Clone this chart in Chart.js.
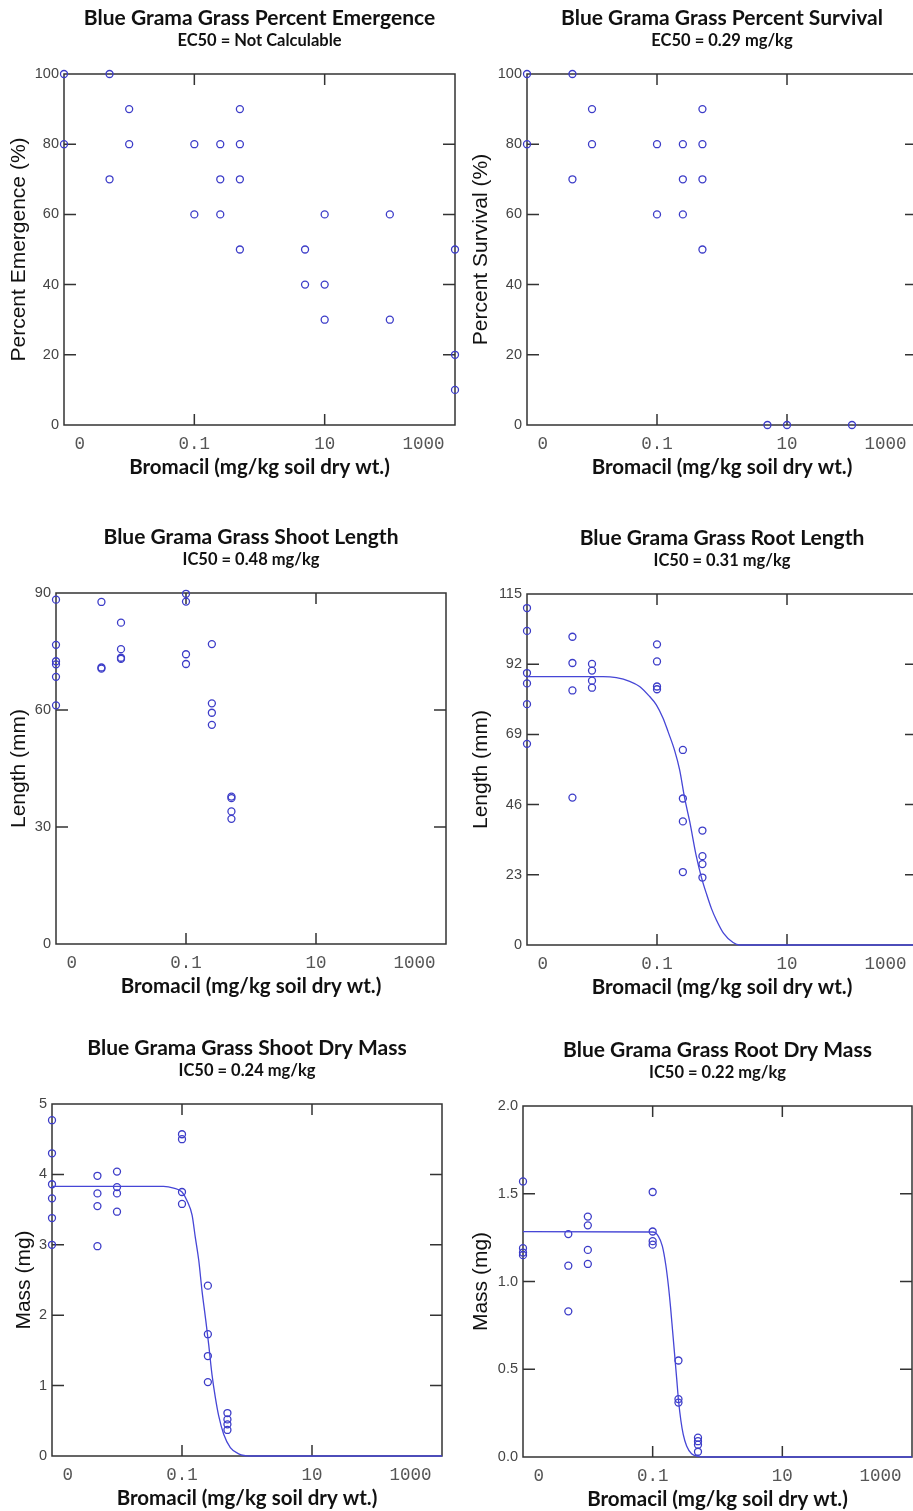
<!DOCTYPE html>
<html>
<head>
<meta charset="utf-8">
<title>Blue Grama Grass - Bromacil</title>
<script src="https://cdn.jsdelivr.net/npm/chart.js@4.4.1/dist/chart.umd.min.js"></script>
<style>
  html, body { margin: 0; padding: 0; background: #fff; }
  #page { position: relative; width: 913px; height: 1511px; overflow: hidden; background: #fff; }
  #page canvas { position: absolute; }
</style>
</head>
<body>
<div id="page">
  <canvas id="emergenceChart"></canvas>
  <canvas id="survivalChart"></canvas>
  <canvas id="shootLengthChart"></canvas>
  <canvas id="rootLengthChart"></canvas>
  <canvas id="shootMassChart"></canvas>
  <canvas id="rootMassChart"></canvas>
</div>
<script>
// eixo x (mg/kg) - o controle (0) fica na ponta esquerda do eixo log
const xTickValues = [0.001, 0.1, 10, 1000];
const xTickLabels = ["0", "0.1", "10", "1000"];

// Percent Emergence
const emergenceConc = [0.001, 0.001, 0.005, 0.005, 0.01, 0.01, 0.1, 0.1, 0.25, 0.25, 0.25,
  0.5, 0.5, 0.5, 0.5, 5, 5, 10, 10, 10, 100, 100, 1000, 1000, 1000];
const emergenceValues = [100, 80, 100, 70, 90, 80, 80, 60, 80, 70, 60,
  90, 80, 70, 50, 50, 40, 60, 40, 30, 60, 30, 50, 20, 10];

// Percent Survival
const survivalConc = [0.001, 0.001, 0.005, 0.005, 0.01, 0.01, 0.1, 0.1, 0.25, 0.25, 0.25,
  0.5, 0.5, 0.5, 0.5, 5, 10, 100];
const survivalValues = [100, 80, 100, 70, 90, 80, 80, 60, 80, 70, 60,
  90, 80, 70, 50, 0, 0, 0];

// Shoot Length (mm)
const shootLengthConc = [0.001, 0.001, 0.001, 0.001, 0.001, 0.001, 0.005, 0.005, 0.005,
  0.01, 0.01, 0.01, 0.01, 0.1, 0.1, 0.1, 0.1, 0.25, 0.25, 0.25, 0.25, 0.5, 0.5, 0.5, 0.5];
const shootLengthValues = [88.3, 76.7, 72.5, 71.7, 68.5, 61.2, 87.7, 70.9, 70.6,
  82.4, 75.6, 73.4, 73.1, 89.8, 87.8, 74.3, 71.8, 76.9, 61.7, 59.3, 56.2, 37.8, 37.4, 34.0, 32.1];

// Root Length (mm)
const rootLengthConc = [0.001, 0.001, 0.001, 0.001, 0.001, 0.001, 0.005, 0.005, 0.005, 0.005,
  0.01, 0.01, 0.01, 0.01, 0.1, 0.1, 0.1, 0.1, 0.25, 0.25, 0.25, 0.25, 0.5, 0.5, 0.5, 0.5];
const rootLengthValues = [110.4, 102.9, 89.1, 85.7, 78.9, 65.9, 101.0, 92.4, 83.4, 48.3,
  92.1, 89.9, 86.6, 84.3, 98.5, 92.9, 84.7, 83.8, 63.9, 48.0, 40.5, 23.9, 37.5, 29.1, 26.5, 22.1];
const rootLengthFitConc = [0.001, 0.0148, 0.0237, 0.0379, 0.054, 0.077, 0.0977, 0.124, 0.148,
  0.187, 0.223, 0.267, 0.319, 0.403, 0.486, 0.574, 0.686, 0.819, 1.06, 1.48, 1.87, 1000];
const rootLengthFitValues = [87.96, 87.96, 87.6, 86.4, 84.7, 81.4, 78.7, 74.3, 69.9,
  63.7, 57.4, 48.0, 40.4, 29.0, 21.9, 16.9, 12.0, 8.2, 3.8, 0.8, 0, 0];

// Shoot Dry Mass (mg)
const shootMassConc = [0.001, 0.001, 0.001, 0.001, 0.001, 0.001, 0.005, 0.005, 0.005, 0.005,
  0.01, 0.01, 0.01, 0.01, 0.1, 0.1, 0.1, 0.1, 0.25, 0.25, 0.25, 0.25, 0.5, 0.5, 0.5, 0.5];
const shootMassValues = [4.77, 4.30, 3.86, 3.66, 3.38, 3.00, 3.98, 3.73, 3.55, 2.98,
  4.04, 3.82, 3.73, 3.47, 4.57, 4.50, 3.75, 3.58, 2.42, 1.73, 1.42, 1.05, 0.61, 0.52, 0.45, 0.37];
const shootMassFitConc = [0.001, 0.052, 0.0745, 0.1, 0.119, 0.143, 0.160, 0.181, 0.203, 0.229,
  0.257, 0.289, 0.326, 0.367, 0.438, 0.554, 0.745, 1.13, 1000];
const shootMassFitValues = [3.83, 3.83, 3.805, 3.75, 3.63, 3.42, 3.11, 2.78, 2.35, 1.97,
  1.59, 1.16, 0.83, 0.57, 0.31, 0.12, 0.03, 0, 0];

// Root Dry Mass (mg)
const rootMassConc = [0.001, 0.001, 0.001, 0.001, 0.005, 0.005, 0.005, 0.01, 0.01, 0.01, 0.01,
  0.1, 0.1, 0.1, 0.1, 0.25, 0.25, 0.25, 0.5, 0.5, 0.5, 0.5];
const rootMassValues = [1.57, 1.19, 1.165, 1.15, 1.27, 1.09, 0.83, 1.37, 1.32, 1.18, 1.10,
  1.51, 1.285, 1.23, 1.21, 0.55, 0.33, 0.31, 0.11, 0.09, 0.07, 0.03];
const rootMassFitConc = [0.001, 0.1, 0.122, 0.141, 0.159, 0.174, 0.189, 0.203, 0.218, 0.234,
  0.251, 0.273, 0.296, 0.334, 0.398, 0.504, 0.677, 1000];
const rootMassFitValues = [1.284, 1.282, 1.259, 1.202, 1.097, 0.983, 0.851, 0.718, 0.585, 0.452,
  0.319, 0.205, 0.129, 0.063, 0.019, 0.004, 0, 0];

const markerBlue = "rgb(60, 60, 200)";
const lineBlue = "rgb(70, 70, 214)";
const frameColor = "#333";

// moldura com marcas de escala para dentro, nos quatro lados
const framePlugin = {
  id: "frame",
  beforeDatasetsDraw(chart) {
    const { ctx, chartArea: a, scales } = chart;
    ctx.save();
    ctx.strokeStyle = frameColor;
    ctx.lineWidth = 1.5;
    ctx.strokeRect(a.left, a.top, a.right - a.left, a.bottom - a.top);
    ctx.beginPath();
    [0.1, 10].forEach(v => {
      const x = scales.x.getPixelForValue(v);
      ctx.moveTo(x, a.top); ctx.lineTo(x, a.top + 11);
      ctx.moveTo(x, a.bottom); ctx.lineTo(x, a.bottom - 11);
    });
    scales.y.ticks.forEach(t => {
      if (t.value <= scales.y.min || t.value >= scales.y.max) return;
      const y = scales.y.getPixelForValue(t.value);
      ctx.moveTo(a.left, y); ctx.lineTo(a.left + 12, y);
      ctx.moveTo(a.right, y); ctx.lineTo(a.right - 12, y);
    });
    ctx.stroke();
    ctx.restore();
  }
};

function toPoints(xs, ys) {
  return xs.map((x, i) => ({ x: x, y: ys[i] }));
}

function makePanel(p) {
  const canvas = document.getElementById(p.id);
  canvas.width = p.yAxisWidth + p.plotWidth + 12;
  canvas.height = 74 + p.plotHeight + 58;
  canvas.style.left = p.left + "px";
  canvas.style.top = p.top + "px";

  const datasets = [];
  if (p.fitX) {
    datasets.push({
      data: toPoints(p.fitX, p.fitY),
      showLine: true,
      borderColor: lineBlue,
      borderWidth: 1.3,
      pointRadius: 0,
      cubicInterpolationMode: "monotone",
      clip: false
    });
  }
  datasets.push({
    data: toPoints(p.x, p.y),
    pointStyle: "circle",
    pointRadius: 3.5,
    pointBorderWidth: 1.3,
    pointBorderColor: markerBlue,
    pointBackgroundColor: "rgba(0,0,0,0)",
    clip: false
  });

  const last = xTickLabels.length - 1;
  new Chart(canvas, {
    type: "scatter",
    data: { datasets: datasets },
    plugins: [framePlugin],
    options: {
      responsive: false,
      animation: false,
      devicePixelRatio: 1,
      events: [],
      layout: { padding: { left: 0, right: 12, top: 0, bottom: 0 } },
      scales: {
        x: {
          type: "logarithmic",
          min: 0.001,
          max: 1000,
          afterBuildTicks: s => { s.ticks = xTickValues.map(v => ({ value: v })); },
          afterFit: s => { s.height = 58; },
          grid: { display: false, drawTicks: false },
          border: { display: false },
          ticks: {
            autoSkip: false,
            maxRotation: 0,
            align: "inner",
            padding: 9,
            color: "#555",
            font: { family: "Liberation Mono", size: 17.5 },
            callback: (v, i) => i === 0 ? " " + xTickLabels[i] : (i === last ? xTickLabels[i] + " " : xTickLabels[i])
          },
          title: {
            display: true,
            text: "Bromacil (mg/kg soil dry wt.)",
            color: "#111",
            font: { family: "Lato", weight: "bold", size: 20.5 },
            padding: { top: 0, bottom: 3.7 }
          }
        },
        y: {
          min: p.yMin,
          max: p.yMax,
          afterFit: s => { s.width = p.yAxisWidth; },
          grid: { display: false, drawTicks: false },
          border: { display: false },
          ticks: {
            stepSize: p.yStep,
            padding: 5,
            color: "#444",
            font: { family: "Liberation Sans", size: 14.5 },
            callback: v => p.yDecimals ? v.toFixed(p.yDecimals) : v
          },
          title: {
            display: true,
            text: p.yTitle,
            color: "#111",
            font: { family: "Liberation Sans", size: 21 },
            padding: { top: p.yTitlePad, bottom: 0 }
          }
        }
      },
      plugins: {
        legend: { display: false },
        tooltip: { enabled: false },
        title: {
          display: true,
          text: p.title,
          fullSize: false,
          color: "#111",
          font: { family: "Lato", weight: "bold", size: 21 },
          padding: { top: 5.2, bottom: 0.1 }
        },
        subtitle: {
          display: true,
          text: p.subtitle,
          fullSize: false,
          color: "#111",
          font: { family: "Lato", weight: "bold", size: 16.5 },
          padding: { top: 0, bottom: 23.7 }
        }
      }
    }
  });
}

makePanel({
  id: "emergenceChart", left: 0, top: 0, yAxisWidth: 64, plotWidth: 391, plotHeight: 351,
  title: "Blue Grama Grass Percent Emergence", subtitle: "EC50 = Not Calculable",
  yTitle: "Percent Emergence (%)", yTitlePad: 6.4, yMin: 0, yMax: 100, yStep: 20,
  x: emergenceConc, y: emergenceValues
});
makePanel({
  id: "survivalChart", left: 460, top: 0, yAxisWidth: 67, plotWidth: 390, plotHeight: 351,
  title: "Blue Grama Grass Percent Survival", subtitle: "EC50 = 0.29 mg/kg",
  yTitle: "Percent Survival (%)", yTitlePad: 8.9, yMin: 0, yMax: 100, yStep: 20,
  x: survivalConc, y: survivalValues
});
makePanel({
  id: "shootLengthChart", left: 0, top: 519, yAxisWidth: 56, plotWidth: 390, plotHeight: 351,
  title: "Blue Grama Grass Shoot Length", subtitle: "IC50 = 0.48 mg/kg",
  yTitle: "Length (mm)", yTitlePad: 6.4, yMin: 0, yMax: 90, yStep: 30,
  x: shootLengthConc, y: shootLengthValues
});
makePanel({
  id: "rootLengthChart", left: 460, top: 520, yAxisWidth: 67, plotWidth: 390, plotHeight: 351,
  title: "Blue Grama Grass Root Length", subtitle: "IC50 = 0.31 mg/kg",
  yTitle: "Length (mm)", yTitlePad: 8.9, yMin: 0, yMax: 115, yStep: 23,
  x: rootLengthConc, y: rootLengthValues, fitX: rootLengthFitConc, fitY: rootLengthFitValues
});
makePanel({
  id: "shootMassChart", left: 0, top: 1030, yAxisWidth: 52, plotWidth: 390, plotHeight: 352,
  title: "Blue Grama Grass Shoot Dry Mass", subtitle: "IC50 = 0.24 mg/kg",
  yTitle: "Mass (mg)", yTitlePad: 11.4, yMin: 0, yMax: 5, yStep: 1,
  x: shootMassConc, y: shootMassValues, fitX: shootMassFitConc, fitY: shootMassFitValues
});
makePanel({
  id: "rootMassChart", left: 460, top: 1032, yAxisWidth: 63, plotWidth: 389, plotHeight: 351,
  title: "Blue Grama Grass Root Dry Mass", subtitle: "IC50 = 0.22 mg/kg",
  yTitle: "Mass (mg)", yTitlePad: 8.4, yMin: 0, yMax: 2, yStep: 0.5, yDecimals: 1,
  x: rootMassConc, y: rootMassValues, fitX: rootMassFitConc, fitY: rootMassFitValues
});
</script>
</body>
</html>
